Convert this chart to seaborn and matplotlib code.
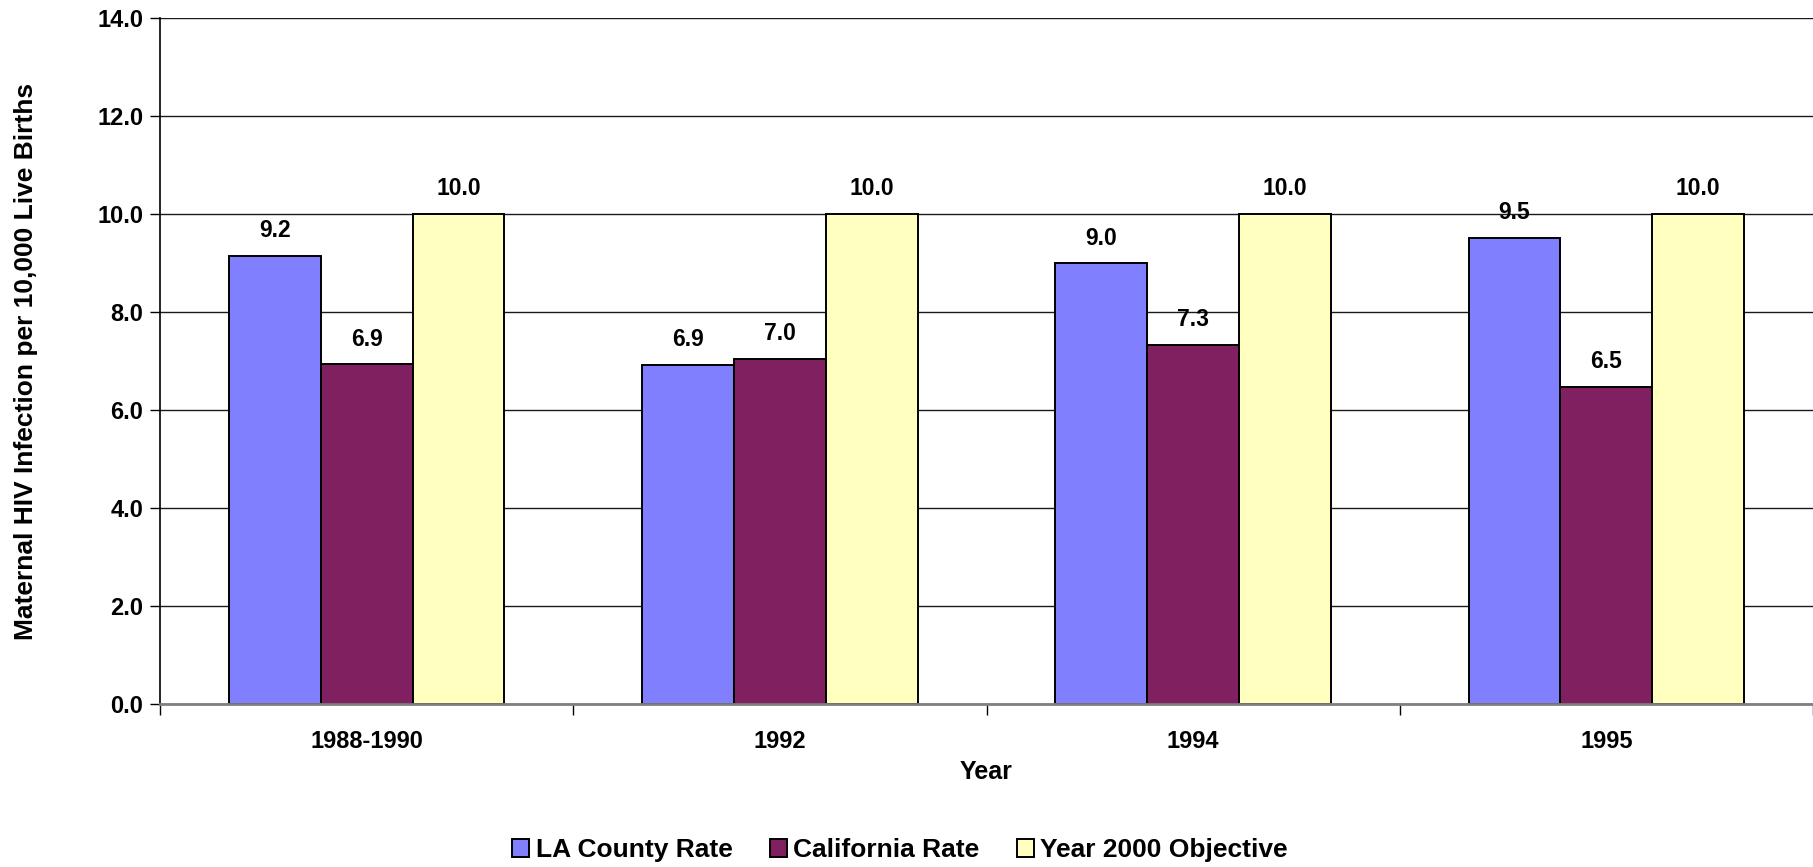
import matplotlib
matplotlib.use("Agg")
import matplotlib.pyplot as plt
from matplotlib.ticker import FixedLocator
import seaborn as sns
import pandas as pd

# data
years = ["1988-1990", "1992", "1994", "1995"]
la_county = [9.15, 6.92, 8.99, 9.52]
california = [6.93, 7.04, 7.33, 6.47]
objective = [10.0, 10.0, 10.0, 10.0]
series_names = ["LA County Rate", "California Rate", "Year 2000 Objective"]
series_colors = ["#8080FF", "#802060", "#FFFFC0"]

df = pd.DataFrame({
    "Year": years * 3,
    "Rate": la_county + california + objective,
    "Series": [series_names[0]] * 4 + [series_names[1]] * 4 + [series_names[2]] * 4,
})

sns.set_theme(style="white")
plt.rcParams["font.family"] = ["Liberation Sans", "DejaVu Sans"]
plt.rcParams["font.weight"] = "bold"
plt.rcParams["text.color"] = "black"
plt.rcParams["axes.labelcolor"] = "black"
plt.rcParams["xtick.color"] = "black"
plt.rcParams["ytick.color"] = "black"

fig = plt.figure(figsize=(18.13, 8.67), dpi=100)
ax = fig.add_axes([160 / 1813, 1 - 704 / 867, 1653 / 1813, (704 - 18) / 867])

sns.barplot(data=df, x="Year", y="Rate", hue="Series", order=years,
            hue_order=series_names, palette=series_colors, width=0.667,
            gap=0, edgecolor="black", linewidth=1.4, saturation=1,
            errorbar=None, ax=ax, legend=True)

for cont in ax.containers:
    ax.bar_label(cont, fmt="%.1f", padding=10, fontsize=16.5, fontweight="bold",
                 color="black")

ax.set_ylim(0, 14)
ax.set_xlim(-0.5, 3.5)
ax.set_yticks([0, 2, 4, 6, 8, 10, 12, 14])
ax.set_yticklabels([f"{v:.1f}" for v in [0, 2, 4, 6, 8, 10, 12, 14]],
                   fontsize=17, fontweight="bold")
ax.yaxis.grid(True, color="#1a1a1a", linewidth=1)
ax.set_axisbelow(True)

ax.xaxis.set_minor_locator(FixedLocator([-0.5, 0.5, 1.5, 2.5, 3.5]))
ax.tick_params(axis="x", which="major", length=0, pad=19, labelsize=17)
ax.tick_params(axis="x", which="minor", length=8, width=1, color="black",
               direction="out", bottom=True)
ax.tick_params(axis="y", length=7, width=1, color="black", direction="out",
               left=True, pad=5)
for lab in ax.get_xticklabels():
    lab.set_fontweight("bold")

for side in ["top", "right"]:
    ax.spines[side].set_visible(False)
ax.spines["left"].set_color("black")
ax.spines["left"].set_linewidth(1.2)
ax.spines["bottom"].set_color("#808080")
ax.spines["bottom"].set_linewidth(2)

ax.set_xlabel("Year", fontsize=18, fontweight="bold", labelpad=5)
ax.set_ylabel("Maternal HIV Infection per 10,000 Live Births", fontsize=19,
              fontweight="bold")
ax.yaxis.set_label_coords((38 - 160) / 1653, 0.5)

handles, labels = ax.get_legend_handles_labels()
ax.get_legend().remove()
fig.legend(handles, labels, loc="center", bbox_to_anchor=(900 / 1813, 1 - 850 / 867),
           ncol=3, frameon=False, handlelength=0.65, handleheight=0.65,
           handletextpad=0.25, columnspacing=1.4, prop={"weight": "bold", "size": 19})

fig.savefig("out.png", dpi=100)
